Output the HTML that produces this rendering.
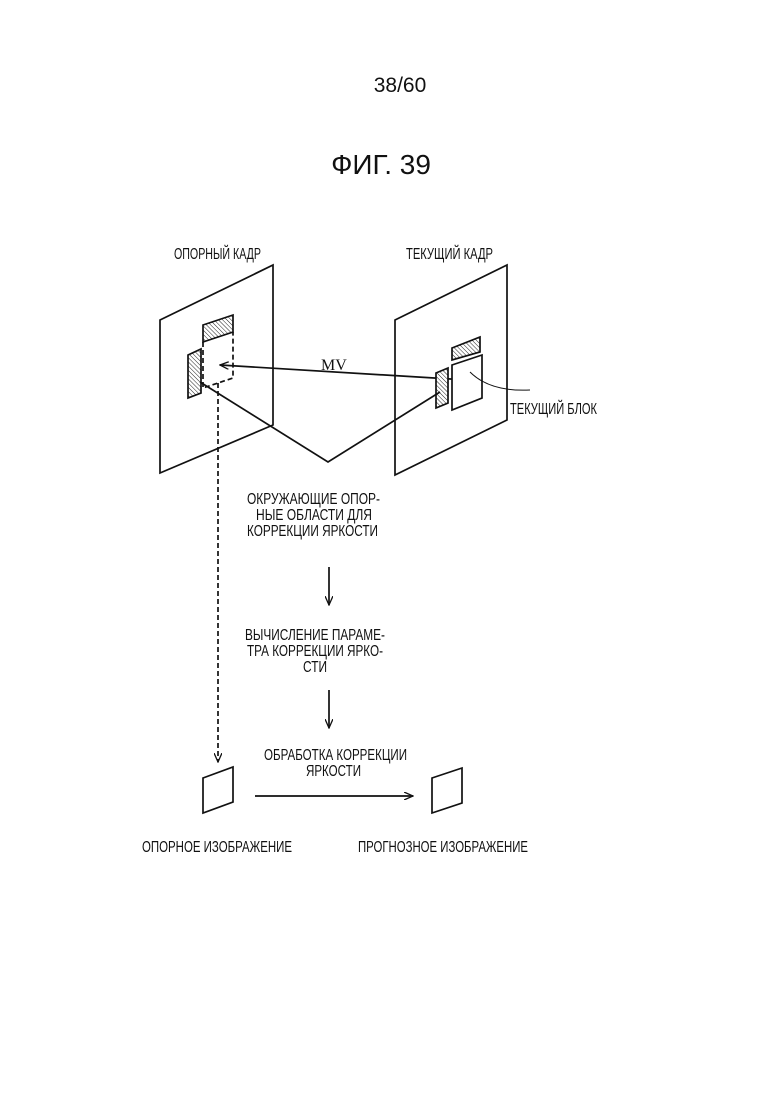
<!DOCTYPE html>
<html><head><meta charset="utf-8"><style>
body{margin:0;background:#fff}
svg text{font-family:"Liberation Sans",sans-serif;fill:#111}
</style></head><body>
<svg width="780" height="1103" viewBox="0 0 780 1103" xmlns="http://www.w3.org/2000/svg">
<defs>
<pattern id="h" width="3" height="3" patternUnits="userSpaceOnUse" patternTransform="rotate(-45)">
<rect width="3" height="3" fill="#fff"/><line x1="0" y1="0" x2="0" y2="3" stroke="#222" stroke-width="1"/></pattern>
<marker id="a" markerWidth="10" markerHeight="8" refX="9" refY="4" orient="auto" markerUnits="userSpaceOnUse">
<path d="M0,0 L9,4 L0,8" fill="none" stroke="#111" stroke-width="1.3"/></marker>
</defs>
<text x="400" y="92" font-size="21" text-anchor="middle">38/60</text>
<text x="381" y="174" font-size="28" text-anchor="middle">ФИГ. 39</text>
<g font-size="16">
<text x="174" y="259" textLength="87" lengthAdjust="spacingAndGlyphs">ОПОРНЫЙ КАДР</text>
<text x="406" y="259" textLength="87" lengthAdjust="spacingAndGlyphs">ТЕКУЩИЙ КАДР</text>
<text x="510" y="414" textLength="87" lengthAdjust="spacingAndGlyphs">ТЕКУЩИЙ БЛОК</text>
<text x="247" y="504" textLength="133" lengthAdjust="spacingAndGlyphs">ОКРУЖАЮЩИЕ ОПОР-</text>
<text x="256" y="520" textLength="116" lengthAdjust="spacingAndGlyphs">НЫЕ ОБЛАСТИ ДЛЯ</text>
<text x="247" y="536" textLength="131" lengthAdjust="spacingAndGlyphs">КОРРЕКЦИИ ЯРКОСТИ</text>
<text x="245" y="640" textLength="140" lengthAdjust="spacingAndGlyphs">ВЫЧИСЛЕНИЕ ПАРАМЕ-</text>
<text x="247" y="656" textLength="136" lengthAdjust="spacingAndGlyphs">ТРА КОРРЕКЦИИ ЯРКО-</text>
<text x="303" y="672" textLength="24" lengthAdjust="spacingAndGlyphs">СТИ</text>
<text x="264" y="760" textLength="143" lengthAdjust="spacingAndGlyphs">ОБРАБОТКА КОРРЕКЦИИ</text>
<text x="306" y="776" textLength="55" lengthAdjust="spacingAndGlyphs">ЯРКОСТИ</text>
<text x="142" y="852" textLength="150" lengthAdjust="spacingAndGlyphs">ОПОРНОЕ ИЗОБРАЖЕНИЕ</text>
<text x="358" y="852" textLength="170" lengthAdjust="spacingAndGlyphs">ПРОГНОЗНОЕ ИЗОБРАЖЕНИЕ</text>
</g>
<g fill="none" stroke="#111" stroke-width="1.7">
<polygon points="160,320 273,265 273,425 160,473"/>
<polygon points="395,320 507,265 507,420 395,475"/>
<polygon points="203,325 233,315 233,332 203,342" fill="url(#h)"/>
<polygon points="188,355 201,349 201,393 188,398" fill="url(#h)"/>
<polyline points="203,342 203,388 233,378 233,332" stroke-dasharray="5,3"/>
<line x1="218" y1="383" x2="218" y2="762" stroke-dasharray="5,3" marker-end="url(#a)"/>
<line x1="467" y1="380" x2="220" y2="365" marker-end="url(#a)"/>
<polygon points="452,348 480,337 480,352 452,360" fill="url(#h)"/>
<polygon points="452,365 482,355 482,398 452,410" fill="#fff"/>
<polygon points="436,373 448,368 448,403 436,408" fill="url(#h)"/>
<polyline points="200,382 328,462 440,392"/>
<path d="M470,372 Q490,392 530,390" stroke-width="1"/>
<line x1="329" y1="567" x2="329" y2="605" marker-end="url(#a)"/>
<line x1="329" y1="690" x2="329" y2="728" marker-end="url(#a)"/>
<polygon points="203,778 233,767 233,802 203,813"/>
<polygon points="432,778 462,768 462,803 432,813"/>
<line x1="255" y1="796" x2="413" y2="796" marker-end="url(#a)"/>
</g>
<text x="321" y="370" font-size="16" style="font-family:'Liberation Serif',serif">MV</text>
</svg>
</body></html>
